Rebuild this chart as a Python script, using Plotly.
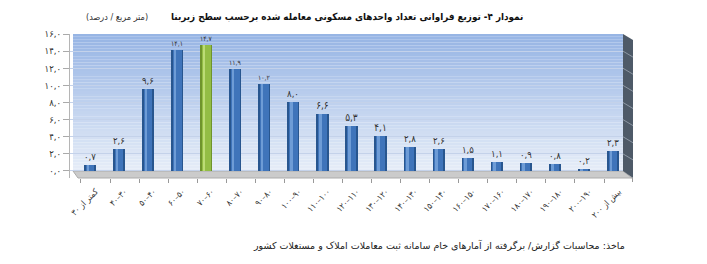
import plotly.graph_objects as go

# ---------------- data ----------------
categories = [
    "کمتر از ۳۰", "۴۰–۳۰", "۵۰–۴۰", "۶۰–۵۰", "۷۰–۶۰", "۸۰–۷۰", "۹۰–۸۰",
    "۱۰۰–۹۰", "۱۱۰–۱۰۰", "۱۲۰–۱۱۰", "۱۳۰–۱۲۰", "۱۴۰–۱۳۰", "۱۵۰–۱۴۰",
    "۱۶۰–۱۵۰", "۱۷۰–۱۶۰", "۱۸۰–۱۷۰", "۱۹۰–۱۸۰", "۲۰۰–۱۹۰", "بیش از ۲۰۰",
]
values = [0.7, 2.6, 9.6, 14.1, 14.7, 11.9, 10.2, 8.0, 6.6, 5.3, 4.1,
          2.8, 2.6, 1.5, 1.1, 0.9, 0.8, 0.2, 2.3]
highlight_index = 4
y_ticks = [0, 2, 4, 6, 8, 10, 12, 14, 16]
y_tick_labels = ["۰,۰", "۲,۰", "۴,۰", "۶,۰", "۸,۰", "۱۰,۰", "۱۲,۰", "۱۴,۰", "۱۶,۰"]

title_text = "نمودار ۴- توزیع فراوانی تعداد واحدهای مسکونی معامله شده برحسب سطح زیربنا"
unit_text = "(متر مربع / درصد)"
source_text = "ماخذ: محاسبات گزارش/ برگرفته از آمارهای خام سامانه ثبت معاملات املاک و مستغلات کشور"

FA = str.maketrans("0123456789.", "۰۱۲۳۴۵۶۷۸۹,")


def fa(v):
    return f"{v:.1f}".translate(FA)


value_labels = [fa(v) for v in values]

# ---------------- layout geometry (pixels) ----------------
W, H = 707, 264
L, R, T, B = 70, 623, 34, 178
FONT = "DejaVu Sans, Noto Sans, sans-serif"
FONT_C = "DejaVu Sans Condensed, DejaVu Sans, sans-serif"


def xp(px):
    return (px - L) / (R - L)


def yp(py):
    return (B - py) / (B - T)


def mix(c1, c2, t):
    return "rgb(%d,%d,%d)" % tuple(round(a + (b - a) * t) for a, b in zip(c1, c2))


# colors per bar
edge_c = ["#6f942c" if i == highlight_index else "#28568f" for i in range(len(values))]
main_c = ["#93bd45" if i == highlight_index else "#3f74ba" for i in range(len(values))]
hi_c = ["#bcdc76" if i == highlight_index else "#6e9cd6" for i in range(len(values))]

fig = go.Figure()

fig.add_trace(go.Bar(
    x=categories, y=values, width=0.42, marker=dict(color=edge_c, line=dict(width=0)),
    text=value_labels, textposition="outside", cliponaxis=False,
    textfont=dict(family=FONT_C, size=10, color="#333333"), hoverinfo="skip",
))
fig.add_trace(go.Bar(
    x=categories, y=values, width=0.30, marker=dict(color=main_c, line=dict(width=0)),
    hoverinfo="skip",
))
fig.add_trace(go.Bar(
    x=categories, y=values, width=0.09, offset=-0.12,
    marker=dict(color=hi_c, line=dict(width=0)), hoverinfo="skip",
))
# carrier trace for the category tick axis (invisible)
fig.add_trace(go.Scatter(
    x=categories, y=values, xaxis="x2", mode="markers",
    marker=dict(opacity=0), hoverinfo="skip", showlegend=False,
))

shapes = []
# gradient back wall
top_c, bot_c = (150, 180, 228), (230, 237, 248)
n = 48
for k in range(n):
    y0 = 16 * k / n
    y1 = 16 * (k + 1) / n
    shapes.append(dict(type="rect", xref="paper", yref="y", x0=xp(73), x1=1, y0=y0, y1=y1,
                       fillcolor=mix(bot_c, top_c, (k + 0.5) / n), line=dict(width=0),
                       layer="below"))
# floor
shapes.append(dict(type="path", xref="paper", yref="paper", layer="below",
                   path=f"M {xp(73)},{yp(171)} L {xp(623)},{yp(171)} L {xp(632)},{yp(178)} L {xp(78)},{yp(178)} Z",
                   fillcolor="#cbcbcb", line=dict(color="#ababab", width=1)))
# right side wall
shapes.append(dict(type="path", xref="paper", yref="paper", layer="below",
                   path=f"M {xp(623)},{yp(34)} L {xp(633)},{yp(40)} L {xp(633)},{yp(178)} L {xp(623)},{yp(171)} Z",
                   fillcolor="#4e5a68", line=dict(width=0)))
for t in y_ticks[1:-1]:
    py = 171 - t * (137 / 16)
    shapes.append(dict(type="line", xref="paper", yref="paper", layer="below",
                       x0=xp(623), y0=yp(py), x1=xp(633), y1=yp(py + 6),
                       line=dict(color="#8c97a4", width=1)))
# last category tick at far right end
shapes.append(dict(type="line", xref="paper", yref="paper", x0=xp(632.5), x1=xp(632.5),
                   y0=yp(178), y1=yp(182), line=dict(color="#999999", width=1)))

annotations = [
    dict(text=f"<b>{title_text}</b>", xref="paper", yref="paper", x=xp(525), y=yp(17),
         xanchor="right", yanchor="middle", showarrow=False,
         font=dict(family=FONT_C, size=9.8, color="#111111")),
    dict(text=unit_text, xref="paper", yref="paper", x=xp(150), y=yp(17),
         xanchor="right", yanchor="middle", showarrow=False,
         font=dict(family=FONT_C, size=9, color="#333333")),
    dict(text=source_text, xref="paper", yref="paper", x=xp(627), y=yp(245),
         xanchor="right", yanchor="middle", showarrow=False,
         font=dict(family=FONT, size=9.5, color="#222222")),
]

fig.update_layout(
    width=W, height=H, autosize=False,
    margin=dict(l=L, r=W - R, t=T, b=H - B, pad=0),
    paper_bgcolor="white", plot_bgcolor="rgba(0,0,0,0)",
    barmode="overlay", bargap=0, showlegend=False,
    shapes=shapes, annotations=annotations,
    xaxis=dict(type="category", categoryorder="array", categoryarray=categories,
               range=[-0.688, 18.344], showticklabels=False, ticks="",
               showgrid=False, zeroline=False, showline=False, fixedrange=True),
    xaxis2=dict(type="category", categoryorder="array", categoryarray=categories,
                overlaying="x", anchor="y", side="bottom",
                range=[-0.878, 18.154], tickson="boundaries", ticks="outside",
                ticklen=4, tickcolor="#999999", tickangle=-45, ticklabelstandoff=6,
                tickfont=dict(family=FONT_C, size=8.5, color="#333333"),
                showgrid=False, zeroline=False, showline=False, fixedrange=True),
    yaxis=dict(range=[-0.82, 16], tickvals=y_ticks, ticktext=y_tick_labels,
               showgrid=True, gridcolor="#c4d2ea", gridwidth=1, zeroline=False,
               showline=True, linecolor="#b5b5b5", ticks="outside", ticklen=6,
               tickcolor="#aaaaaa", tickfont=dict(family=FONT_C, size=9.5, color="#333333"),
               fixedrange=True),
)

fig.write_html("out.html")
